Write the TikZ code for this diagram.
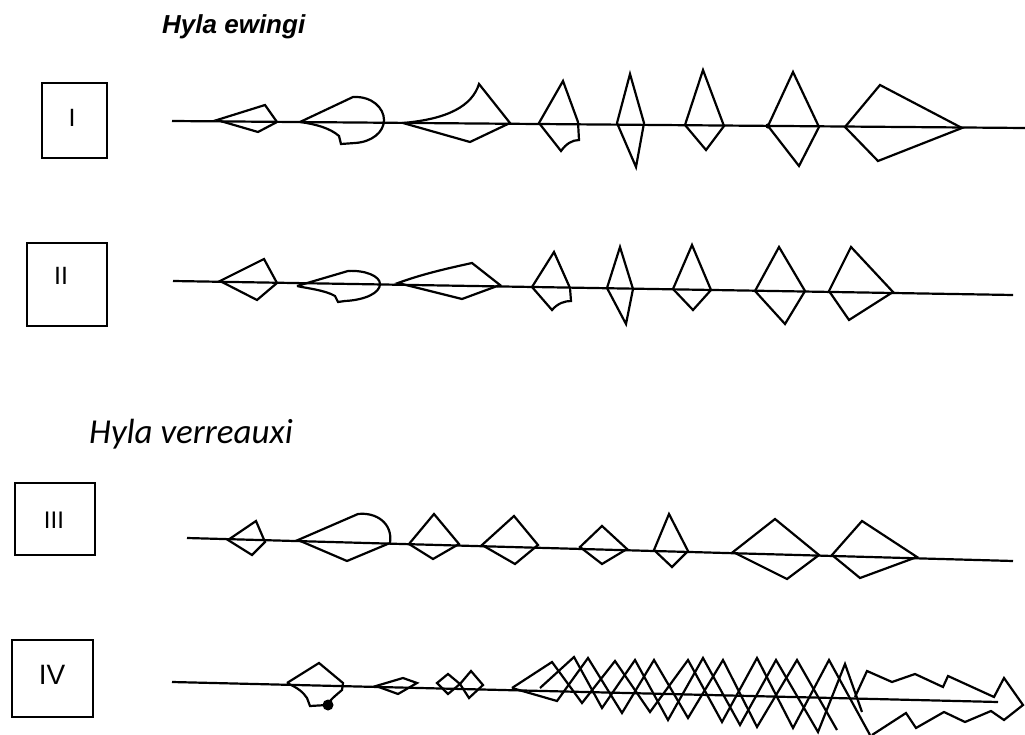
\documentclass[tikz,border=0pt]{standalone}
\usepackage{fontspec}
\newfontfamily\arialfont{Liberation Sans}
\newfontfamily\calfont{Carlito}
\begin{document}
\begin{tikzpicture}[x=1pt,y=-1pt,
  trace/.style={line width=2.2pt, line join=miter, miter limit=6},
  axis/.style={line width=2.2pt},
  tag/.style={draw, line width=2pt, inner sep=0pt},
  numeral/.style={font=\arialfont\fontsize{25}{25}\selectfont, inner sep=0pt}]
\useasboundingbox (0,0) rectangle (1025,735);

% species headings
\node[anchor=base west, inner sep=0pt, font=\arialfont\bfseries\itshape\fontsize{26}{26}\selectfont] (hewingi) at (162,34) {Hyla ewingi};
\node[anchor=base west, inner sep=0pt, font=\calfont\itshape\fontsize{35}{35}\selectfont] (hverr) at (89,443) {Hyla verreauxi};

% record labels
\node[tag, minimum width=65pt, minimum height=75pt] (box1) at (74.5,120.5) {};
\node[numeral] (n1) at (72,118) {I};
\node[tag, minimum width=80pt, minimum height=83pt] (box2) at (67,284.5) {};
\node[numeral] (n2) at (61,276) {II};
\node[tag, minimum width=80pt, minimum height=72pt] (box3) at (55,519) {};
\node[numeral, font=\arialfont\fontsize{24}{24}\selectfont] (n3) at (54,520) {III};
\node[tag, minimum width=81pt, minimum height=77pt] (box4) at (52.5,678.5) {};
\node[numeral, font=\arialfont\fontsize{28}{28}\selectfont] (n4) at (52,675) {IV};

% time axes
\coordinate (s1) at (172,121); \coordinate (e1) at (1025,128);
\coordinate (s2) at (173,281); \coordinate (e2) at (1013,295);
\coordinate (s3) at (187,538); \coordinate (e3) at (1013,561);
\coordinate (s4) at (172,682); \coordinate (e4) at (998,702);
\draw[axis] (s1) -- (e1);
\draw[axis] (s2) -- (e2);
\draw[axis] (s3) -- (e3);
\draw[axis] (s4) -- (e4);

% ---- record I ----
\draw[trace] (217,120) -- (265,105) -- (277,122) -- (258,132) -- cycle;
\draw[trace] (300,122) -- (353,97) .. controls (372,96) and (384,108) .. (384,120)
  .. controls (384,132) and (372,142) .. (355,143) -- (341,144) -- (339,136)
  .. controls (330,128) and (315,124) .. (300,122);
\draw[trace] (403,123) .. controls (448,119) and (472,106) .. (479,84) -- (510,123) -- (470,142) -- cycle;
\draw[trace] (539,123) -- (563,81) -- (578,122) -- (579,140) .. controls (572,140) and (566,144) .. (561,151) -- cycle;
\draw[trace] (617,123) -- (630,74) -- (644,123) -- (636,167) -- cycle;
\draw[trace] (685,125) -- (703,70) -- (724,126) -- (706,150) -- cycle;
\draw[trace] (768,126) -- (793,72) -- (819,127) -- (799,166) -- cycle;
\fill (768,126) circle (2.6);
\draw[trace] (845,127) -- (880,85) -- (962,128) -- (878,161) -- cycle;

% ---- record II ----
\draw[trace] (220,281) -- (264,259) -- (277,283) -- (257,300) -- cycle;
\draw[trace] (297,286) -- (348,271) .. controls (365,270) and (380,276) .. (380,284)
  .. controls (380,293) and (365,300) .. (345,301) -- (338,302) -- (335,296)
  .. controls (325,290) and (305,288) .. (297,286);
\draw[trace] (398,283) .. controls (420,275) and (440,270) .. (472,263) -- (500,285) -- (462,299) -- cycle;
\draw[trace] (532,287) -- (554,252) -- (570,288) -- (571,301) .. controls (565,301) and (558,303) .. (552,310) -- cycle;
\draw[trace] (607,288) -- (620,247) -- (633,289) -- (626,324) -- cycle;
\draw[trace] (673,289) -- (692,245) -- (711,290) -- (693,310) -- cycle;
\draw[trace] (755,291) -- (779,247) -- (805,291) -- (785,324) -- cycle;
\draw[trace] (829,291) -- (851,247) -- (893,292) -- (849,320) -- cycle;

% ---- record III ----
\draw[trace] (228,540) -- (256,521) -- (265,542) -- (252,555) -- cycle;
\draw[trace] (298,540) -- (358,514) .. controls (376,512) and (393,523) .. (390,543) -- (347,561) -- cycle;
\draw[trace] (409,544) -- (434,514) -- (459,544) -- (433,559) -- cycle;
\draw[trace] (482,545) -- (514,516) -- (538,545) -- (515,564) -- cycle;
\draw[trace] (580,547) -- (602,526) -- (627,549) -- (602,564) -- cycle;
\draw[trace] (654,550) -- (669,514) -- (688,551) -- (672,567) -- cycle;
\draw[trace] (733,552) -- (775,519) -- (819,555) -- (787,579) -- cycle;
\draw[trace] (832,555) -- (862,521) -- (917,557) -- (860,578) -- cycle;

% ---- record IV ----
\draw[trace] (287,683) -- (319,663) -- (343,683) -- (342,690)
  .. controls (335,696) and (330,700) .. (327,705) -- (310,706) -- (307,698)
  .. controls (303,692) and (298,688) .. (287,683);
\fill (328,705) circle (5.5);
\draw[trace] (376,686) -- (403,678) -- (417,683) -- (398,694) -- cycle;
\draw[trace] (437,683) -- (448,674) -- (460,684) -- (448,694) -- cycle;
\draw[trace] (460,684) -- (471,671) -- (483,685) -- (469,698) -- cycle;
% overlapping pulses
\draw[trace] (512,688) -- (552,662) -- (582,703) -- (615,661) -- (650,712) -- (688,660)
  -- (722,722) -- (757,658) -- (793,728) -- (829,660) -- (870,735);
\draw[trace] (540,688) -- (574,657) -- (602,708) -- (635,660) -- (668,720) -- (703,658)
  -- (740,725) -- (776,660) -- (818,732) -- (845,664) -- (862,712);
\draw[trace] (512,688) -- (557,701) -- (588,658) -- (622,713) -- (654,660) -- (688,718)
  -- (723,660) -- (757,727) -- (797,660) -- (837,730);
% ragged tail
\draw[trace] (855,697) -- (867,671) -- (892,682) -- (915,674) -- (943,687) -- (948,676)
  -- (994,697) -- (1004,678) -- (1023,705) -- (1004,720) -- (991,711) -- (965,722)
  -- (944,712) -- (916,728) -- (906,713) -- (872,735);
\end{tikzpicture}
\end{document}
